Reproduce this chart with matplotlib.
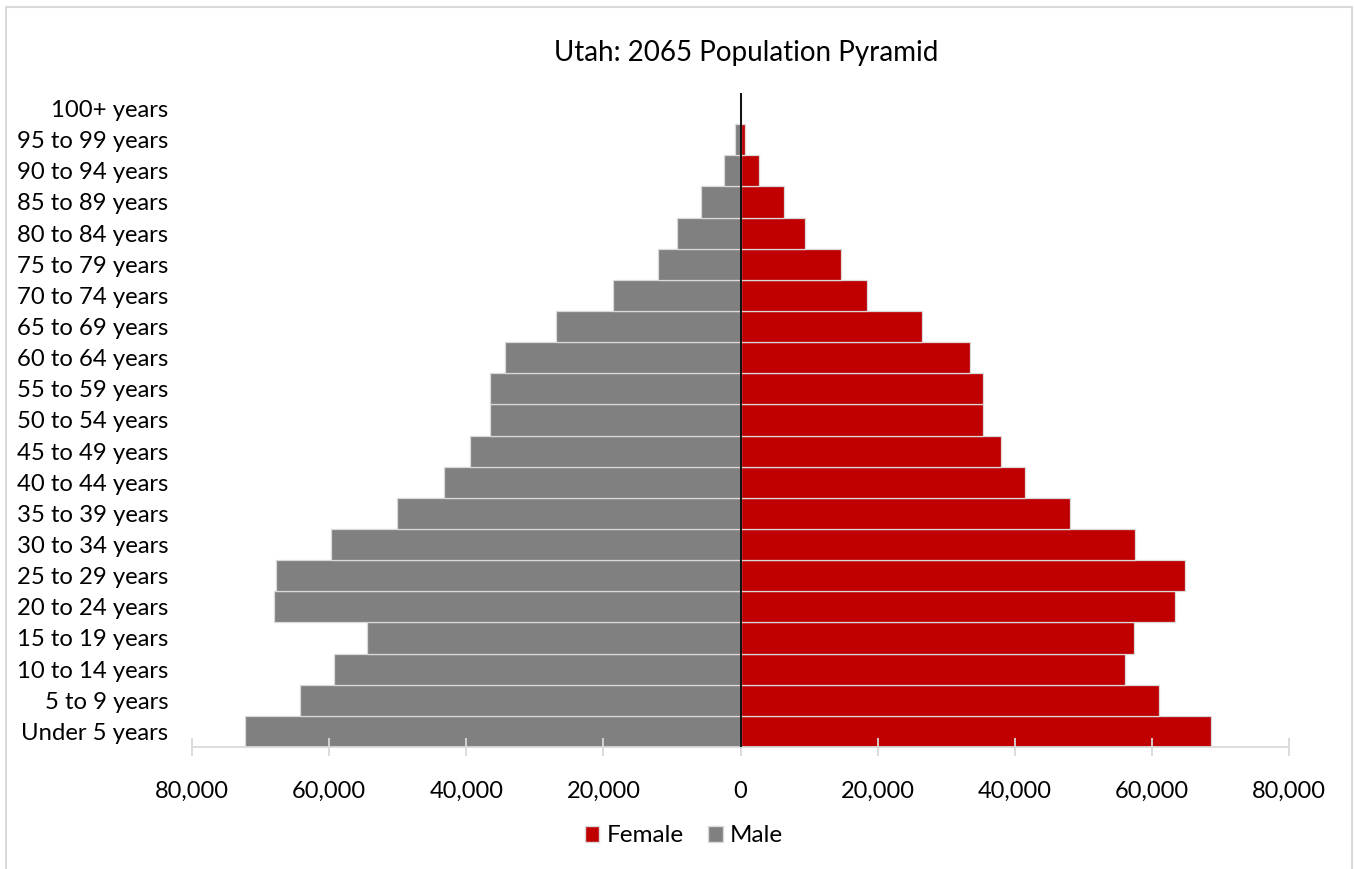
import matplotlib
matplotlib.use("Agg")
import matplotlib.pyplot as plt
from matplotlib.patches import Patch
from matplotlib.lines import Line2D
from matplotlib.ticker import FuncFormatter

plt.rcParams['font.family'] = ['Lato', 'DejaVu Sans']

age_groups = ["Under 5 years", "5 to 9 years", "10 to 14 years", "15 to 19 years",
              "20 to 24 years", "25 to 29 years", "30 to 34 years", "35 to 39 years",
              "40 to 44 years", "45 to 49 years", "50 to 54 years", "55 to 59 years",
              "60 to 64 years", "65 to 69 years", "70 to 74 years", "75 to 79 years",
              "80 to 84 years", "85 to 89 years", "90 to 94 years", "95 to 99 years",
              "100+ years"]
male = [72200, 64300, 59300, 54500, 68000, 67800, 59700, 50100, 43200, 39400, 36600,
        36600, 34300, 26900, 18600, 12100, 9200, 5750, 2450, 840, 80]
female = [68600, 61000, 56100, 57400, 63300, 64800, 57600, 48100, 41500, 38000, 35400,
          35300, 33500, 26400, 18500, 14700, 9480, 6360, 2730, 720, 90]

red = "#c00000"
gray = "#808080"

fig = plt.figure(figsize=(13.54, 8.69), dpi=100)
ax = fig.add_axes([192 / 1354, 1 - 747 / 869, (1289 - 192) / 1354, (747 - 93) / 869])

ypos = range(len(age_groups))
ax.barh(ypos, [-m for m in male], height=1.0, color=gray, edgecolor="#d9d9d9", linewidth=0.9)
ax.barh(ypos, female, height=1.0, color=red, edgecolor="#d9d9d9", linewidth=0.9)
ax.axvline(0, color="black", linewidth=1.3, zorder=5)

ax.set_xlim(-80000, 80000)
ax.set_ylim(-0.5, len(age_groups) - 0.5)
ax.set_xticks(range(-80000, 80001, 20000))
ax.xaxis.set_major_formatter(FuncFormatter(lambda v, p: f"{abs(int(v)):,}"))
ax.set_yticks(list(ypos))
ax.set_yticklabels(age_groups)

for s in ["top", "right", "left"]:
    ax.spines[s].set_visible(False)
ax.spines["bottom"].set_color("#d9d9d9")
ax.spines["bottom"].set_linewidth(1.3)
ax.tick_params(axis="y", length=0, pad=17, labelsize=17.2)
ax.tick_params(axis="x", direction="inout", length=13, width=1.3, color="#d9d9d9",
               pad=18, labelsize=17)

fig.text(746 / 1354, 1 - 53 / 869, "Utah: 2065 Population Pyramid", ha="center", va="center",
         fontsize=20)

handles = [Patch(facecolor=red, edgecolor="#d9d9d9"), Patch(facecolor=gray, edgecolor="#d9d9d9")]
fig.legend(handles, ["Female", "Male"], loc="center", bbox_to_anchor=(684 / 1354, 1 - 836 / 869),
           ncol=2, frameon=False, fontsize=17.5, handlelength=0.6, handleheight=0.6,
           handletextpad=0.3, columnspacing=1.0)

fig.add_artist(Line2D([6 / 1354, 6 / 1354, 1352 / 1354, 1352 / 1354],
                      [0, 1 - 7 / 869, 1 - 7 / 869, 0], color="#d9d9d9", linewidth=1.5))

fig.savefig("out.png", dpi=100)
